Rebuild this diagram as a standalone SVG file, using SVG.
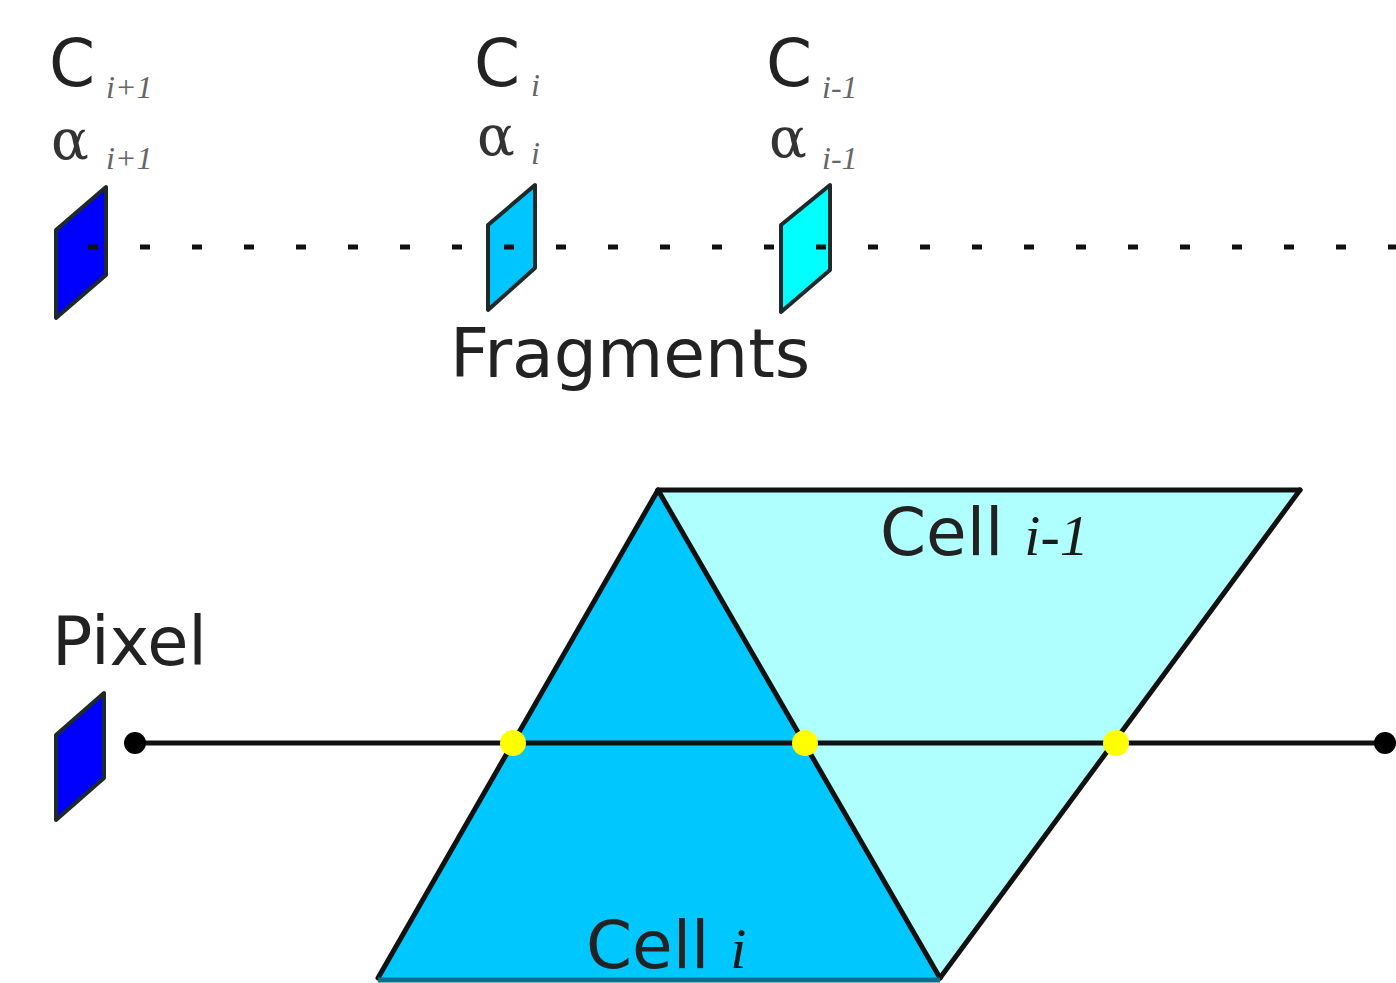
<svg xmlns="http://www.w3.org/2000/svg" width="1396" height="983" viewBox="0 0 1396 983">
<style>
.lbl{font-family:"DejaVu Sans",sans-serif;fill:#222}
.alpha{font-family:"DejaVu Serif",serif;fill:#333}
.sub{font-family:"Liberation Serif",serif;font-style:italic;fill:#666}
.it{font-family:"Liberation Serif",serif;font-style:italic;fill:#1a1a1a}
.frag{stroke:#1e2a2a;stroke-width:4;stroke-linejoin:round}
.edge{stroke:#111;stroke-width:5;fill:none;stroke-linecap:round}
</style>
<rect width="1396" height="983" fill="#fff"/>
<g id="cell-i">
<polygon points="658,490 378,978 940,978" fill="#00c8ff"/>
<text class="lbl" x="586" y="968" font-size="66">Cell <tspan class="it" font-size="58">i</tspan></text>
</g>
<g id="cell-i-1">
<polygon points="658,490 1300,490 940,978" fill="#b0ffff"/>
<text class="lbl" x="880" y="555" font-size="66">Cell <tspan class="it" font-size="58">i-1</tspan></text>
</g>
<g id="frag-i+1">
<polygon class="frag" points="56,230 106,187 106,275 56,318" fill="#0000ff"/>
<text class="lbl" x="49" y="86" font-size="66">C</text>
<text class="sub" x="106" y="98" font-size="32">i+1</text>
<text class="alpha" x="51" y="159" font-size="56">α</text>
<text class="sub" x="106" y="169" font-size="32">i+1</text>
</g>
<g id="frag-i">
<polygon class="frag" points="488,225 535,185 535,268 488,310" fill="#00c5ff"/>
<text class="lbl" x="474" y="86" font-size="66">C</text>
<text class="sub" x="531" y="96" font-size="32">i</text>
<text class="alpha" x="477" y="155" font-size="56">α</text>
<text class="sub" x="531" y="164" font-size="32">i</text>
</g>
<g id="frag-i-1">
<polygon class="frag" points="781,225 830,185 830,270 781,312" fill="#00ffff" stroke="#3a5050"/>
<text class="lbl" x="766" y="86" font-size="66">C</text>
<text class="sub" x="822" y="98" font-size="32">i-1</text>
<text class="alpha" x="769" y="157" font-size="56">α</text>
<text class="sub" x="822" y="169" font-size="32">i-1</text>
</g>
<g id="fragments-label">
<text class="lbl" x="450" y="377" font-size="68">Fragments</text>
</g>
<g id="pixel">
<polygon class="frag" points="56,735 104,693 104,778 56,820" fill="#0000ff"/>
<text class="lbl" x="52" y="665" font-size="67">Pixel</text>
</g>
<g id="connectors">
<line x1="88" y1="247" x2="1396" y2="247" stroke="#111" stroke-width="5" stroke-dasharray="10 42"/>
<line x1="658" y1="490" x2="1300" y2="490" class="edge"/>
<line x1="658" y1="490" x2="378" y2="978" class="edge"/>
<line x1="658" y1="490" x2="940" y2="978" class="edge"/>
<line x1="1300" y1="490" x2="940" y2="978" class="edge"/>
<line x1="378" y1="980" x2="940" y2="980" stroke="#0a6f8a" stroke-width="5"/>
<line x1="135" y1="743" x2="1385" y2="743" stroke="#111" stroke-width="5"/>
<circle cx="135" cy="743" r="11" fill="#000"/>
<circle cx="1385" cy="743" r="11" fill="#000"/>
<circle cx="513" cy="743" r="13" fill="#ffff00"/>
<circle cx="805" cy="743" r="13" fill="#ffff00"/>
<circle cx="1116" cy="743" r="13" fill="#ffff00"/>
</g>
</svg>
